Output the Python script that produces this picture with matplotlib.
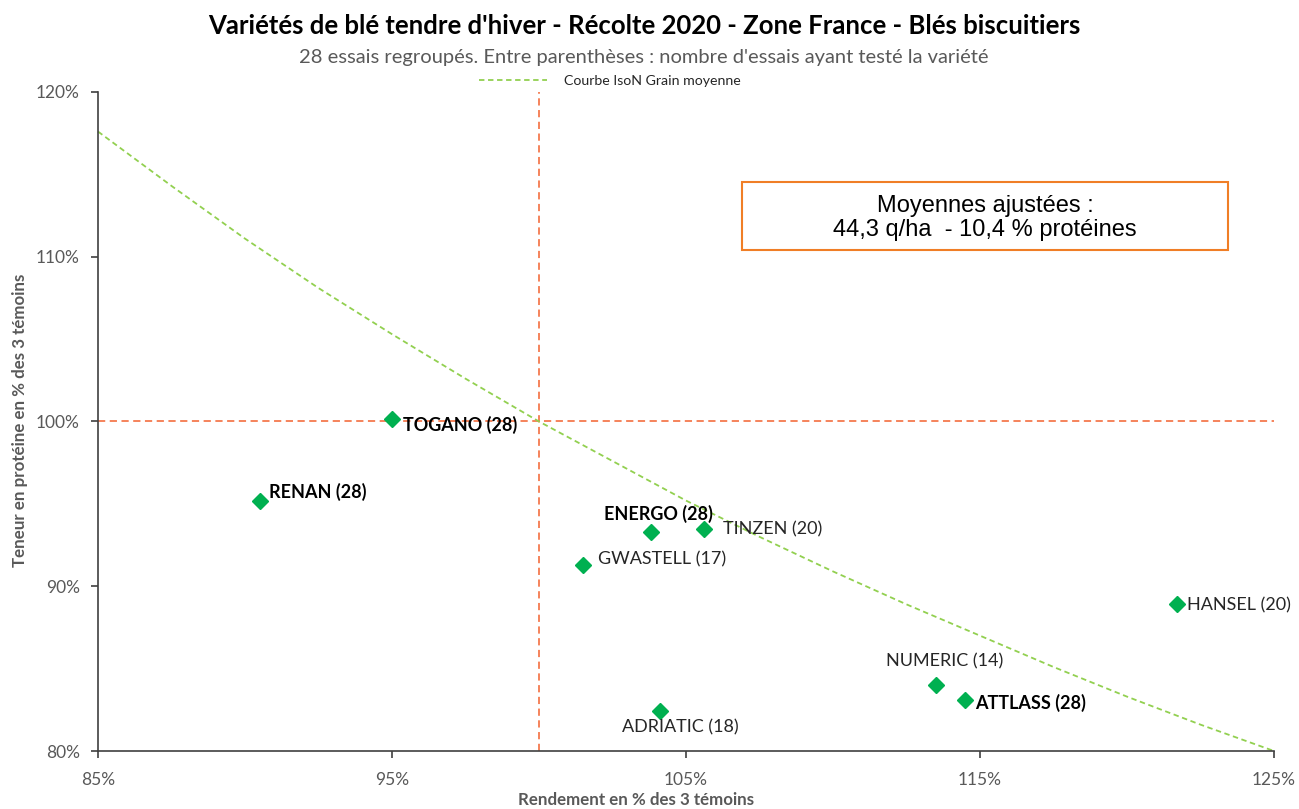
import matplotlib
matplotlib.use("Agg")
import matplotlib.pyplot as plt
from matplotlib.ticker import FuncFormatter
from matplotlib.patches import Rectangle

# ---- data ----
varieties = ["TOGANO (28)", "RENAN (28)", "ENERGO (28)", "TINZEN (20)", "GWASTELL (17)",
             "HANSEL (20)", "NUMERIC (14)", "ATTLASS (28)", "ADRIATIC (18)"]
rendement = [95.0, 90.5, 103.8, 105.6, 101.5, 121.7, 113.5, 114.5, 104.1]
proteine = [100.15, 95.2, 93.3, 93.5, 91.3, 88.9, 84.0, 83.1, 82.4]
bold = [True, True, True, False, False, False, False, True, False]

curve_x = [85, 87.5, 90, 92.5, 95, 97.5, 100, 102.5, 105, 107.5, 110, 112.5, 115, 117.5, 120, 122.5, 125]
curve_y = [117.6, 114.3, 111.1, 108.1, 105.3, 102.6, 100.0, 97.6, 95.2, 93.0, 90.9, 88.9, 87.0, 85.1, 83.3, 81.6, 80.0]

x_ticks = [85, 95, 105, 115, 125]
y_ticks = [80, 90, 100, 110, 120]

# label offsets in pixels (dx, dy-down) and horizontal alignment
label_pos = [(11, 6, "left"), (9, -9, "left"), (8, -18, "center"), (19, 1, "left"),
             (15, -5, "left"), (10, 1, "left"), (9, -24, "center"), (10, 3, "left"),
             (21, 16, "center")]

FONT = "Lato"
GRAY = "#595959"
plt.rcParams['font.family'] = [FONT, 'DejaVu Sans']

fig = plt.figure(figsize=(12.99, 8.09), dpi=100)
ax = fig.add_axes([98/1299, 1-751/809, (1274-98)/1299, (751-92)/809])
ax.set_xlim(85, 125)
ax.set_ylim(80, 120)

orange = "#F4794E"
ax.axhline(100, color=orange, lw=1.3, ls=(0, (4, 2.5)), zorder=1)
ax.axvline(100, color=orange, lw=1.3, ls=(0, (4, 2.5)), zorder=1)
ax.plot(curve_x, curve_y, color="#92D050", lw=1.3, ls=(0, (3, 2)), zorder=2,
        label="Courbe IsoN Grain moyenne", clip_on=False)

ax.plot(rendement, proteine, ls="none", marker="D", ms=8, color="#00B050",
        markeredgecolor="#00B050", zorder=3)

for name, x, y, b, (dx, dy, ha) in zip(varieties, rendement, proteine, bold, label_pos):
    ax.annotate(name, (x, y), xytext=(dx * 0.72, -dy * 0.72), textcoords="offset points",
                ha=ha, va="center", fontsize=13,
                fontweight="bold" if b else "normal",
                color="#000000" if b else "#262626")

for s in ["top", "right"]:
    ax.spines[s].set_visible(False)
for s in ["left", "bottom"]:
    ax.spines[s].set_color("#404040")
    ax.spines[s].set_linewidth(1.2)

ax.set_xticks(x_ticks)
ax.set_yticks(y_ticks)
fmt = FuncFormatter(lambda v, p: f"{v:.0f}%")
ax.xaxis.set_major_formatter(fmt)
ax.yaxis.set_major_formatter(fmt)
ax.tick_params(axis="both", direction="out", length=5, width=1.2, color="#404040",
               labelsize=12.5, labelcolor=GRAY)
ax.tick_params(axis="x", pad=10)
ax.tick_params(axis="y", pad=8)

fig.text(636/1299, 1-800/809, "Rendement en % des 3 témoins", ha="center", va="center",
         fontsize=12.2, fontweight="bold", color=GRAY)
fig.text(20/1299, 1-420/809, "Teneur en protéine en % des 3 témoins", ha="center", va="center",
         rotation=90, fontsize=12.2, fontweight="bold", color=GRAY)

fig.text(644/1299, 1-26/809,
         "Variétés de blé tendre d'hiver - Récolte 2020 - Zone France - Blés biscuitiers",
         ha="center", va="center", fontsize=18.5, fontweight="bold", color="#000000")
fig.text(644/1299, 1-57/809,
         "28 essais regroupés. Entre parenthèses : nombre d'essais ayant testé la variété",
         ha="center", va="center", fontsize=14.5, color=GRAY)

leg = ax.legend(loc="center", bbox_to_anchor=(610/1299, 1-81/809), bbox_transform=fig.transFigure,
                frameon=False, fontsize=10.2, handlelength=4.8, handletextpad=1.2)
for t in leg.get_texts():
    t.set_color("#262626")

fig.patches.append(Rectangle((742/1299, 1-250/809), (1228-742)/1299, (250-182)/809,
                             transform=fig.transFigure, fill=True, facecolor="white",
                             edgecolor="#F07E26", lw=1.5, zorder=5))
fig.text(985/1299, 1-218/809, "Moyennes ajustées :\n44,3 q/ha  - 10,4 % protéines",
         ha="center", va="center", fontsize=17, family="Liberation Sans",
         linespacing=1.12, color="#000000", zorder=6)

fig.savefig("out.png", dpi=100)
